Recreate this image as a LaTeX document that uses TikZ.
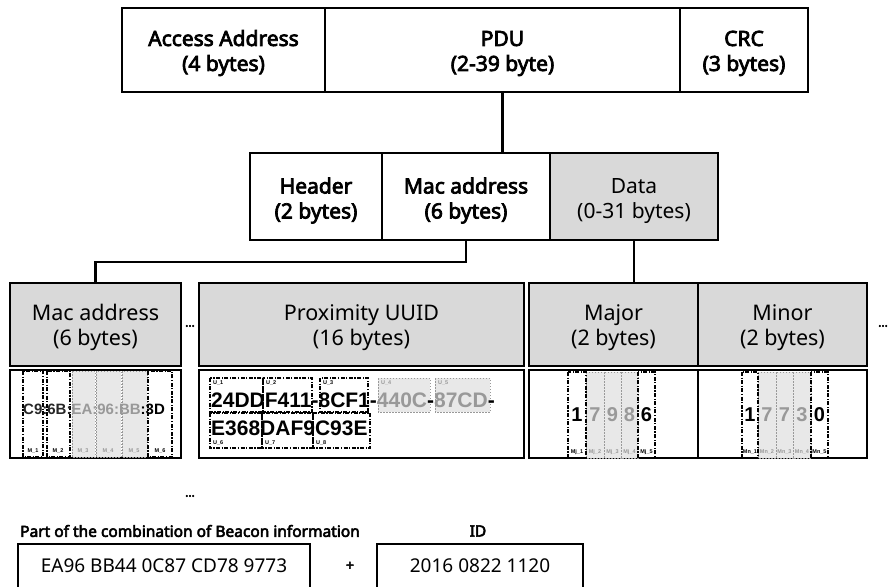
\documentclass[tikz,border=0pt]{standalone}
\usepackage{fontspec}
\setmainfont{Noto Sans}[AutoFakeBold=3.5]
\newfontfamily\hexfont{Liberation Sans}
\usetikzlibrary{calc}
\definecolor{boxgray}{HTML}{D9D9D9}
\definecolor{cellgray}{HTML}{E8E8E8}
\definecolor{txtgray}{HTML}{999999}
\newcommand\dnstrut[1]{\rule{0pt}{#1}}
\tikzset{
 topfield/.style={draw, line width=2.6pt, minimum height=84pt, inner sep=0pt, outer sep=0pt, align=center, font=\fontsize{21}{25}\selectfont\bfseries},
 segbox/.style={draw, line width=2pt, fill=boxgray, minimum height=83pt, inner sep=0pt, outer sep=0pt, align=center, font=\fontsize{21.5}{25}\selectfont},
 detbox/.style={draw, line width=2pt, minimum height=88pt, inner sep=0pt, outer sep=0pt},
 conn/.style={line width=2.6pt},
 bcell/.style={draw=black, line width=1.6pt, dash pattern=on 4pt off 1.5pt on 1.2pt off 1.5pt},
 gcell/.style={draw=txtgray, line width=1pt, dash pattern=on 1.5pt off 1.5pt, fill=cellgray},
 tinylbl/.style={font=\hexfont\bfseries\fontsize{5.5}{5.5}\selectfont, inner sep=0pt},
 hexbig/.style={font=\hexfont\bfseries\fontsize{21}{21}\selectfont, inner sep=0pt},
 digit/.style={font=\hexfont\bfseries\fontsize{20}{20}\selectfont, inner sep=0pt},
 dots/.style={font=\bfseries\fontsize{12}{12}\selectfont, inner sep=0pt},
 idbox/.style={draw, line width=2pt, minimum height=44pt, inner sep=0pt, outer sep=0pt, font=\fontsize{19}{19}\selectfont},
}
\begin{document}
\begin{tikzpicture}[x=1pt,y=-1pt]
\useasboundingbox (0,0) rectangle (891,586);
% top row
\node[topfield, minimum width=203pt] (aa) at (223.5,50) {\dnstrut{22pt}Access Address\\(4 bytes)};
\node[topfield, minimum width=355pt] (pdu) at (502.5,50) {\dnstrut{22pt}PDU\\(2-39 byte)};
\node[topfield, minimum width=128pt] (crc) at (744,50) {\dnstrut{22pt}CRC\\(3 bytes)};
% middle row
\node[topfield, minimum height=87pt, minimum width=132pt, font=\fontsize{21}{25}\selectfont\bfseries] (hdr) at (316,196.5) {\dnstrut{24pt}Header\\(2 bytes)};
\node[topfield, minimum height=87pt, minimum width=168pt, font=\fontsize{21}{25}\selectfont\bfseries] (mac) at (466,196.5) {\dnstrut{24pt}Mac address\\(6 bytes)};
\node[topfield, minimum height=87pt, minimum width=168pt, fill=boxgray, font=\fontsize{21}{25}\selectfont] (data) at (634,196.5) {\dnstrut{24pt}Data\\(0-31 bytes)};
\draw[conn] (pdu.south) -- (pdu.south |- mac.north);
% lower row
\node[segbox, minimum width=171pt] (lmac) at (95.5,324.5) {\dnstrut{22pt}Mac address\\(6 bytes)};
\node[segbox, minimum width=325pt] (uuid) at (361.5,324.5) {\dnstrut{22pt}Proximity UUID\\(16 bytes)};
\node[segbox, minimum width=169pt] (major) at (613.5,324.5) {\dnstrut{22pt}Major\\(2 bytes)};
\node[segbox, minimum width=169pt] (minor) at (782.5,324.5) {\dnstrut{22pt}Minor\\(2 bytes)};
\draw[conn] (mac.south) -- ++(0,22) -| (lmac.north);
\draw[conn] (data.south) -- (data.south |- major.north);
\node[dots] (dl) at (190,326) {...};
\node[dots] (dr) at (883,326) {...};
% detail row
\node[detbox, minimum width=171pt] (dmac) at (95.5,414) {};
\node[detbox, minimum width=325pt] (duuid) at (361.5,414) {};
\node[detbox, minimum width=169pt] (dmajor) at (613.5,414) {};
\node[detbox, minimum width=169pt] (dminor) at (782.5,414) {};
% mac cells
\path[gcell] (72,371) rectangle (95,457);
\path[gcell] (96,371) rectangle (121,457);
\path[gcell] (122,371) rectangle (147,457);
\path[bcell] (23,371) rectangle (43,457);
\path[bcell] (47,371) rectangle (70,457);
\path[bcell] (148,371) rectangle (172,457);
\node[font=\hexfont\bfseries\fontsize{15}{15}\selectfont, inner sep=0pt, anchor=west] (mactxt) at (23,409) {{\color{black!85}C9:6B:}{\color{txtgray}EA:96:BB}:3D};
\node[tinylbl] (m1) at (33,451) {M\_1};
\node[tinylbl] (m2) at (58,451) {M\_2};
\node[tinylbl, text=txtgray] (m3) at (83,451) {M\_3};
\node[tinylbl, text=txtgray] (m4) at (108,451) {M\_4};
\node[tinylbl, text=txtgray] (m5) at (134,451) {M\_5};
\node[tinylbl] (m6) at (160,451) {M\_6};
% uuid cells
\path[gcell] (378,378) rectangle (430,412);
\path[gcell] (435,378) rectangle (490,412);
\path[bcell] (210,378) rectangle (263,412);
\path[bcell] (263,378) rectangle (312,412);
\path[bcell] (320,378) rectangle (368,412);
\path[bcell] (210,413) rectangle (262,448);
\path[bcell] (262,413) rectangle (313,448);
\path[bcell] (313,413) rectangle (370,448);
\node[hexbig, anchor=west] (u1txt) at (211,400) {24DDF411-8CF1-{\color{txtgray}440C}-{\color{txtgray}87CD}-};
\node[hexbig, anchor=west] (u2txt) at (211,428) {E368DAF9C93E};
\node[tinylbl, anchor=west] (u1) at (213,383) {U\_1};
\node[tinylbl, anchor=west] (u2) at (266,383) {U\_2};
\node[tinylbl, anchor=west] (u3) at (323,383) {U\_3};
\node[tinylbl, anchor=west, text=txtgray] (u4) at (381,383) {U\_4};
\node[tinylbl, anchor=west, text=txtgray] (u5) at (438,383) {U\_5};
\node[tinylbl, anchor=west] (u6) at (213,443) {U\_6};
\node[tinylbl, anchor=west] (u7) at (265,443) {U\_7};
\node[tinylbl, anchor=west] (u8) at (316,443) {U\_8};
% major cells
\path[gcell] (586,372) rectangle (604,458);
\path[gcell] (604,372) rectangle (621,458);
\path[gcell] (621,372) rectangle (638,458);
\path[bcell] (568,372) rectangle (586,458);
\path[bcell] (638,372) rectangle (655,458);
\node[digit] (j1) at (577,415) {1};
\node[digit, text=txtgray] (j2) at (595,415) {7};
\node[digit, text=txtgray] (j3) at (612.5,415) {9};
\node[digit, text=txtgray] (j4) at (629.5,415) {8};
\node[digit] (j5) at (646.5,415) {6};
\node[tinylbl] (jl1) at (577,452) {Mj\_1};
\node[tinylbl, text=txtgray] (jl2) at (595,452) {Mj\_2};
\node[tinylbl, text=txtgray] (jl3) at (612.5,452) {Mj\_3};
\node[tinylbl, text=txtgray] (jl4) at (629.5,452) {Mj\_4};
\node[tinylbl] (jl5) at (646.5,452) {Mj\_5};
% minor cells
\path[gcell] (758,372) rectangle (776,458);
\path[gcell] (776,372) rectangle (793,458);
\path[gcell] (793,372) rectangle (811,458);
\path[bcell] (742,372) rectangle (758,458);
\path[bcell] (811,372) rectangle (828,458);
\node[digit] (n1) at (750,415) {1};
\node[digit, text=txtgray] (n2) at (767,415) {7};
\node[digit, text=txtgray] (n3) at (784.5,415) {7};
\node[digit, text=txtgray] (n4) at (802,415) {3};
\node[digit] (n5) at (819.5,415) {0};
\node[tinylbl] (nl1) at (750,452) {Mn\_1};
\node[tinylbl, text=txtgray] (nl2) at (767,452) {Mn\_2};
\node[tinylbl, text=txtgray] (nl3) at (784.5,452) {Mn\_3};
\node[tinylbl, text=txtgray] (nl4) at (802,452) {Mn\_4};
\node[tinylbl] (nl5) at (819.5,452) {Mn\_5};
% bottom
\node[dots] (bdots) at (190,496) {...};
\node[font=\bfseries\fontsize{15.5}{15.5}\selectfont, anchor=west, inner sep=0pt] (parttitle) at (20,531) {Part of the combination of Beacon information};
\node[font=\bfseries\fontsize{15.5}{15.5}\selectfont, inner sep=0pt] (idtitle) at (478,531) {ID};
\node[idbox, minimum width=292pt] (combo) at (164,566) {EA96 BB44 0C87 CD78 9773};
\node[font=\bfseries\fontsize{14}{14}\selectfont, inner sep=0pt] (plus) at (350,566) {+};
\node[idbox, minimum width=206pt] (idval) at (480,566) {2016 0822 1120};
\end{tikzpicture}
\end{document}
